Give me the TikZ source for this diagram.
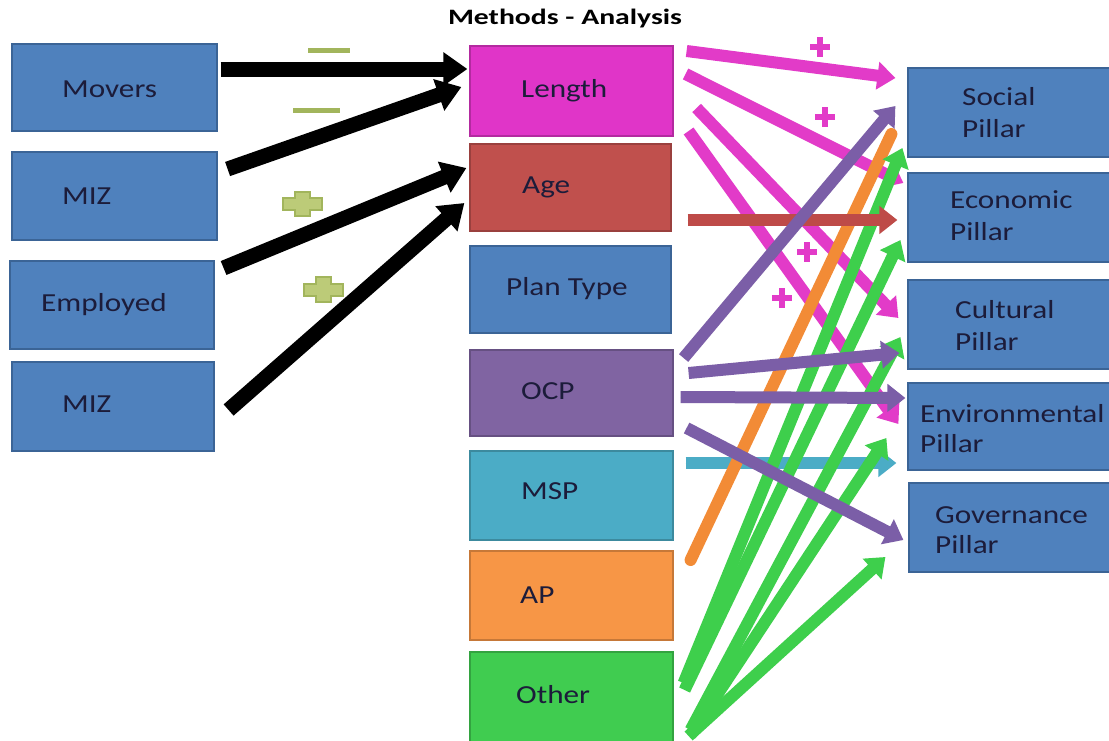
\documentclass[tikz,border=0pt]{standalone}
\usepackage{fontspec}
\usetikzlibrary{arrows.meta,calc}
\newfontfamily\boxfont[FakeStretch=1.2]{Carlito}
\newfontfamily\titlefont[FakeStretch=1.35]{Carlito}
\definecolor{blueF}{HTML}{4F81BD}
\definecolor{blueD}{HTML}{3B6496}
\definecolor{magF}{HTML}{E035C8}
\definecolor{ageF}{HTML}{C0504D}
\definecolor{ocpF}{HTML}{8064A2}
\definecolor{mspF}{HTML}{4BACC6}
\definecolor{apF}{HTML}{F79646}
\definecolor{othF}{HTML}{40CC50}
\definecolor{magA}{HTML}{E23BC8}
\definecolor{purA}{HTML}{7B5EA7}
\definecolor{tealA}{HTML}{4BACC6}
\definecolor{orA}{HTML}{F28B36}
\definecolor{grA}{HTML}{3ECF4C}
\definecolor{redA}{HTML}{BE4B48}
\definecolor{txt}{HTML}{1C1C3A}
\definecolor{oliveS}{HTML}{A2B55C}
\definecolor{oliveL}{HTML}{BCCB78}
\begin{document}
\begin{tikzpicture}[x=1pt,y=-1pt,
  box/.style={inner sep=0pt, line width=1.2pt},
  lbl/.style={font=\boxfont\fontsize{26}{30}\selectfont, text=txt, inner sep=0pt, anchor=base west},
  blk/.style={draw=black, line width=15pt, -{Triangle[length=24pt,width=32pt]}},
  carr/.style={line width=12pt, -{Triangle[length=18pt,width=27pt]}},
  magplus/.style={draw=magA, line width=6pt},
]
\useasboundingbox (0,0) rectangle (1109,740);
\clip (0,0) rectangle (1109,740);
\fill[white] (0,0) rectangle (1109,740);

% title
\node[font=\titlefont\bfseries\fontsize{22}{26}\selectfont, inner sep=0pt, anchor=base] (title) at (565,24) {Methods - Analysis};

% left boxes
\node[box, fill=blueF, draw=blueD, minimum width=205pt, minimum height=87pt] (movers) at (114.5,87.5) {};
\node[box, fill=blueF, draw=blueD, minimum width=205pt, minimum height=88pt] (miz1) at (114.5,196) {};
\node[box, fill=blueF, draw=blueD, minimum width=204pt, minimum height=88pt] (employed) at (112,305) {};
\node[box, fill=blueF, draw=blueD, minimum width=202pt, minimum height=89pt] (miz2) at (113,406.5) {};

% middle boxes
\node[box, fill=magF, draw=magF!80!black, minimum width=203pt, minimum height=90pt] (length) at (571.5,91) {};
\node[box, fill=ageF, draw=ageF!80!black, minimum width=201pt, minimum height=87pt] (age) at (570.5,187.5) {};
\node[box, fill=blueF, draw=blueD, minimum width=201pt, minimum height=87pt] (plan) at (570.5,289.5) {};
\node[box, fill=ocpF, draw=ocpF!80!black, minimum width=203pt, minimum height=86pt] (ocp) at (571.5,393) {};
\node[box, fill=mspF, draw=mspF!80!black, minimum width=203pt, minimum height=89pt] (msp) at (571.5,495.5) {};
\node[box, fill=apF, draw=apF!80!black, minimum width=203pt, minimum height=89pt] (ap) at (571.5,595.5) {};
\node[box, fill=othF, draw=othF!80!black, minimum width=203pt, minimum height=90pt] (other) at (571.5,697) {};

% right boxes
\node[box, fill=blueF, draw=blueD, minimum width=203pt, minimum height=89pt] (social) at (1009.5,112.5) {};
\node[box, fill=blueF, draw=blueD, minimum width=203pt, minimum height=89pt] (economic) at (1009.5,217.5) {};
\node[box, fill=blueF, draw=blueD, minimum width=203pt, minimum height=89pt] (cultural) at (1009.5,324.5) {};
\node[box, fill=blueF, draw=blueD, minimum width=203pt, minimum height=87pt] (environmental) at (1009.5,426.5) {};
\node[box, fill=blueF, draw=blueD, minimum width=202pt, minimum height=89pt] (governance) at (1010,527.5) {};

% labels
\node[lbl] (movT) at (62,97) {Movers};
\node[lbl] (miz1T) at (62,204) {MIZ};
\node[lbl] (empT) at (41,311) {Employed};
\node[lbl] (miz2T) at (62,412) {MIZ};
\node[lbl] (lenT) at (521,97) {Length};
\node[lbl] (ageT) at (522,193) {Age};
\node[lbl] (planT) at (506,295) {Plan Type};
\node[lbl] (ocpT) at (521,399) {OCP};
\node[lbl] (mspT) at (521,499) {MSP};
\node[lbl] (apT) at (520,603) {AP};
\node[lbl] (othT) at (516,703) {Other};
\node[lbl] (socT1) at (962,105) {Social};
\node[lbl] (socT2) at (962,137) {Pillar};
\node[lbl] (ecoT1) at (950,208) {Economic};
\node[lbl] (ecoT2) at (950,240) {Pillar};
\node[lbl] (culT1) at (955,318) {Cultural};
\node[lbl] (culT2) at (955,350) {Pillar};
\node[lbl] (envT1) at (920,422) {Environmental};
\node[lbl] (envT2) at (920,452) {Pillar};
\node[lbl] (govT1) at (935,523) {Governance};
\node[lbl] (govT2) at (935,553) {Pillar};

% magenta arrows (Length)
\draw[carr, draw=magA, fill=magA] ($(length.east)+(13,-40)$) -- ($(social.west)+(-12,-34.5)$);
\draw[carr, draw=magA, fill=magA] ($(length.east)+(12,-17)$) -- ($(economic.west)+(-4,-34.5)$);
\draw[carr, draw=magA, fill=magA] ($(length.east)+(23,17)$) -- ($(cultural.west)+(-9,-6.5)$);
\draw[carr, draw=magA, fill=magA] ($(length.east)+(15,40)$) -- ($(environmental.west)+(-9,-2.5)$);

% black arrows
\draw[blk] ($(movers.east)+(3,-18.5)$) -- ($(length.west)+(-2,-22)$);
\draw[blk] ($(miz1.east)+(10,-27)$) -- ($(length.west)+(-8,-4)$);
\draw[blk] ($(employed.east)+(9,-37)$) -- ($(age.west)+(-3,-19.5)$);
\draw[blk] ($(miz2.east)+(14,3.5)$) -- ($(age.west)+(-5,15.5)$);

% teal arrow (MSP)
\draw[carr, draw=tealA, fill=tealA] ($(msp.east)+(12,-32.5)$) -- ($(environmental.west)+(-11,36.5)$);

% orange line (AP)
\draw[draw=orA, line width=12pt, line cap=round] ($(ap.east)+(17,-35.5)$) -- ($(social.west)+(-16,21.5)$);

% green arrows (Other)
\draw[carr, draw=grA, fill=grA] ($(other.east)+(10,-14)$) -- ($(social.west)+(-5,35.5)$);
\draw[carr, draw=grA, fill=grA] ($(other.east)+(11,-7)$) -- ($(economic.west)+(-7,22.5)$);
\draw[carr, draw=grA, fill=grA] ($(other.east)+(17,33)$) -- ($(cultural.west)+(-7,12.5)$);
\draw[carr, draw=grA, fill=grA] ($(other.east)+(17,38)$) -- ($(environmental.west)+(-21,11.5)$);
\draw[carr, draw=grA, fill=grA] ($(other.east)+(15,39)$) -- ($(governance.west)+(-23,29.5)$);

% red arrow (Age)
\draw[carr, draw=redA, fill=redA] ($(age.east)+(16,32.5)$) -- ($(economic.west)+(-10,2.5)$);

% purple arrows (OCP)
\draw[carr, draw=purA, fill=purA] ($(ocp.east)+(10,-35)$) -- ($(social.west)+(-12,-6.5)$);
\draw[carr, draw=purA, fill=purA] ($(ocp.east)+(15,-20)$) -- ($(cultural.west)+(-8,28.5)$);
\draw[carr, draw=purA, fill=purA] ($(ocp.east)+(7,4)$) -- ($(environmental.west)+(-2,-28.5)$);
\draw[carr, draw=purA, fill=purA] ($(ocp.east)+(13,35)$) -- ($(governance.west)+(-5,12.5)$);

% olive signs
\fill[oliveS] (308,48) rectangle (350,53);
\fill[oliveS] (293,108) rectangle (340,113);
\filldraw[fill=oliveL, draw=oliveS, line width=2pt]
  (283,198) -- (295,198) -- (295,192) -- (310,192) -- (310,198) -- (322,198)
  -- (322,210) -- (310,210) -- (310,216) -- (295,216) -- (295,210) -- (283,210) -- cycle;
\filldraw[fill=oliveL, draw=oliveS, line width=2pt]
  (304,284) -- (316,284) -- (316,277) -- (331,277) -- (331,284) -- (343,284)
  -- (343,296) -- (331,296) -- (331,302) -- (316,302) -- (316,296) -- (304,296) -- cycle;

% magenta plus signs
\draw[magplus] (810,47) -- (830,47) (820,37) -- (820,57);
\draw[magplus] (815,117) -- (835,117) (825,107) -- (825,127);
\draw[magplus] (797,252) -- (817,252) (807,242) -- (807,262);
\draw[magplus] (772,298) -- (792,298) (782,288) -- (782,308);
\end{tikzpicture}
\end{document}
